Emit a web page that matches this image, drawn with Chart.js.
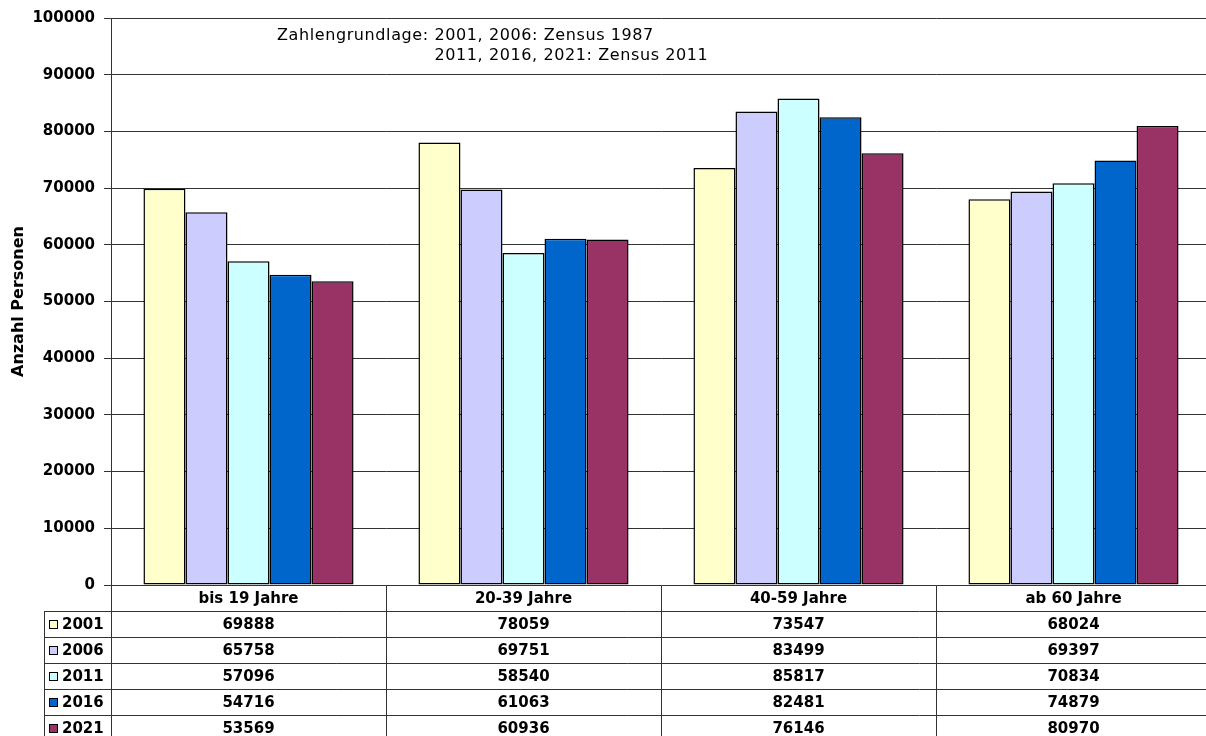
<!DOCTYPE html>
<html>
<head>
<meta charset="utf-8">
<script src="https://cdn.jsdelivr.net/npm/chart.js@4.4.0/dist/chart.umd.min.js"></script>
<style>
  html, body { margin: 0; background: #fff; overflow: hidden; }
  /* etwas breiter als das Fenster: der Plotbereich läuft rechts über den Rand hinaus */
  #wrap { width: 1211px; height: 736px; position: relative; }
</style>
</head>
<body>
<div id="wrap"><canvas id="bevoelkerung"></canvas></div>
<script>
// Daten aus dem Diagramm
const categories = ['bis 19 Jahre', '20-39 Jahre', '40-59 Jahre', 'ab 60 Jahre'];
const years = ['2001', '2006', '2011', '2016', '2021'];
const werte2001 = [69888, 78059, 73547, 68024];
const werte2006 = [65758, 69751, 83499, 69397];
const werte2011 = [57096, 58540, 85817, 70834];
const werte2016 = [54716, 61063, 82481, 74879];
const werte2021 = [53569, 60936, 76146, 80970];
const farben = ['#FFFFCC', '#CCCCFF', '#CCFFFF', '#0066CC', '#993366'];

const alleWerte = [werte2001, werte2006, werte2011, werte2016, werte2021];
const FONT = '"DejaVu Sans", Verdana, sans-serif';
const lineColor = '#333333';

// Datentabelle unter dem Diagramm (wie in Excel)
const tablePlugin = {
  id: 'datenTabelle',
  afterDraw(chart) {
    const ctx = chart.ctx;
    const area = chart.chartArea;
    const xScale = chart.scales.x;
    const catW = (area.right - area.left) / categories.length;
    const top = Math.round(area.bottom) + 0.5;
    const headerH = 25.5;
    const rowH = 26;
    const tableLeft = 44.5;
    const bottom = top + headerH + rowH * years.length;

    ctx.save();
    ctx.strokeStyle = lineColor;
    ctx.lineWidth = 1;

    // horizontale Linien
    ctx.beginPath();
    for (let r = 0; r <= years.length; r++) {
      const y = Math.round(top + headerH + r * rowH) + 0.5;
      ctx.moveTo(tableLeft, y);
      ctx.lineTo(chart.width, y);
    }
    // vertikale Linien
    ctx.moveTo(Math.round(area.left) + 0.5, top);
    ctx.lineTo(Math.round(area.left) + 0.5, bottom);
    ctx.moveTo(tableLeft, top + headerH);
    ctx.lineTo(tableLeft, bottom);
    for (let i = 1; i < categories.length; i++) {
      const x = Math.round(area.left + i * catW) + 0.5;
      ctx.moveTo(x, top);
      ctx.lineTo(x, bottom);
    }
    ctx.stroke();

    ctx.fillStyle = '#000';
    ctx.font = 'bold 15px ' + FONT;
    ctx.textAlign = 'center';
    ctx.textBaseline = 'middle';
    categories.forEach((c, i) => {
      const cx = xScale.getPixelForValue(i);
      ctx.fillText(c, cx, top + headerH / 2 + 1);
      alleWerte.forEach((werte, r) => {
        ctx.fillText(String(werte[i]), cx, top + headerH + r * rowH + rowH / 2 + 1);
      });
    });

    // Legende in der ersten Spalte
    ctx.textAlign = 'left';
    years.forEach((jahr, r) => {
      const cy = top + headerH + r * rowH + rowH / 2;
      ctx.fillStyle = farben[r];
      ctx.fillRect(49.5, Math.round(cy - 4) + 0.5, 8, 8);
      ctx.strokeStyle = '#000';
      ctx.strokeRect(49.5, Math.round(cy - 4) + 0.5, 8, 8);
      ctx.fillStyle = '#000';
      ctx.fillText(jahr, 62, cy + 1);
    });

    // Anmerkung oben
    ctx.font = '16px ' + FONT;
    ctx.letterSpacing = '0.6px';
    ctx.textBaseline = 'middle';
    const prefix = 'Zahlengrundlage: ';
    ctx.fillText(prefix + '2001, 2006: Zensus 1987', 277, 36);
    ctx.fillText('2011, 2016, 2021: Zensus 2011', 277 + ctx.measureText(prefix).width, 56);
    ctx.restore();
  }
};

const ctx = document.getElementById('bevoelkerung').getContext('2d');
new Chart(ctx, {
  type: 'bar',
  data: {
    labels: categories,
    datasets: years.map((jahr, i) => ({
      label: jahr,
      data: alleWerte[i],
      backgroundColor: farben[i],
      borderColor: '#000',
      borderWidth: 1.5,
      borderSkipped: false,
      categoryPercentage: 0.764,
      barPercentage: 1.0
    }))
  },
  options: {
    responsive: true,
    maintainAspectRatio: false,
    devicePixelRatio: 1,
    animation: false,
    layout: { padding: { left: 0, top: 18, right: 0, bottom: 151 } },
    plugins: {
      legend: { display: false },
      tooltip: { enabled: false }
    },
    scales: {
      x: {
        display: false
      },
      y: {
        min: 0,
        max: 100000,
        afterFit(scale) { scale.width = 111; },
        ticks: {
          stepSize: 10000,
          padding: 9,
          color: '#000',
          font: { family: FONT, size: 15, weight: 'bold' },
          callback: (v) => String(v)
        },
        grid: {
          color: lineColor,
          lineWidth: 1,
          tickLength: 7,
          drawTicks: true
        },
        border: { display: true, color: lineColor, width: 1 },
        title: {
          display: true,
          text: 'Anzahl Personen',
          color: '#000',
          padding: { top: 9, bottom: 0 },
          font: { family: FONT, size: 16, weight: 'bold' }
        }
      }
    }
  },
  plugins: [tablePlugin]
});
</script>
</body>
</html>
